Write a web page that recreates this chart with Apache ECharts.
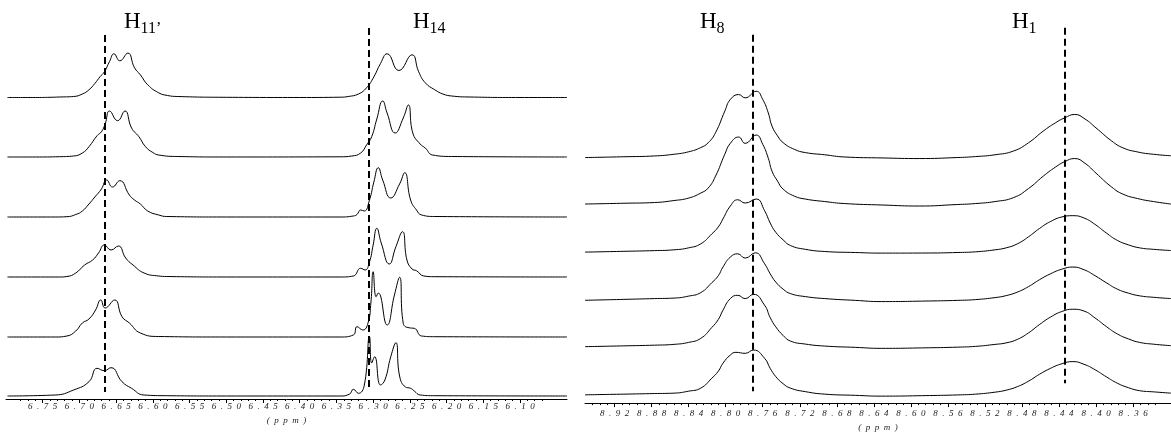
<!DOCTYPE html>
<html><head><meta charset="utf-8">
<script src="https://cdn.jsdelivr.net/npm/echarts@6/dist/echarts.min.js"></script>
<style>html,body{margin:0;padding:0;background:#fff}#c{width:1171px;height:437px}</style>
</head><body><div id="c"></div>
<script>
// ---------- DATA ----------
const leftTickLabels = [6.75,6.70,6.65,6.60,6.55,6.50,6.45,6.40,6.35,6.30,6.25,6.20,6.15,6.10];
const rightTickLabels = [8.92,8.88,8.84,8.80,8.76,8.72,8.68,8.64,8.60,8.56,8.52,8.48,8.44,8.40,8.36];

// left panel spectra [ppm, intensity], top to bottom
const leftTrace1 = [[6.798,0],[6.760,0],[6.740,0.2],[6.727,0.5],[6.708,1],[6.696,3.5],[6.687,7.7],[6.679,14],[6.672,20.7],[6.666,25.7],[6.659,36],[6.653,43.7],[6.645,36.7],[6.634,44.4],[6.625,29.7],[6.617,22.7],[6.607,12.7],[6.592,4.7],[6.580,2],[6.566,1],[6.500,0.2],[6.400,0],[6.345,0.3],[6.334,1],[6.320,3.5],[6.309,9.7],[6.299,20.7],[6.290,34],[6.281,43.7],[6.265,27],[6.247,42.7],[6.238,25.7],[6.229,14.7],[6.216,7.7],[6.205,3.5],[6.193,1.5],[6.168,0.5],[6.100,0],[6.036,0]];
const leftTrace2 = [[6.798,0],[6.760,0],[6.727,0.3],[6.708,1],[6.696,4],[6.687,10.3],[6.676,21.3],[6.670,25.3],[6.665,33],[6.659,46],[6.648,36.3],[6.638,46],[6.629,29],[6.619,20.3],[6.610,10.3],[6.600,4.5],[6.592,2],[6.566,0.5],[6.500,0],[6.345,0.2],[6.329,1],[6.317,4],[6.309,12],[6.302,20.3],[6.295,38],[6.287,56],[6.281,44],[6.270,24],[6.259,39],[6.252,52],[6.246,24],[6.236,13],[6.229,9],[6.219,2],[6.193,0.5],[6.036,0]];
const leftTrace3 = [[6.798,0],[6.733,0],[6.717,0.3],[6.705,2.5],[6.696,6],[6.687,13],[6.679,20],[6.670,28],[6.663,37],[6.655,30],[6.645,36.3],[6.632,22],[6.625,17],[6.617,13],[6.607,6],[6.592,2],[6.581,0.5],[6.500,0],[6.345,0],[6.327,1],[6.322,2.5],[6.317,7],[6.312,6],[6.305,17],[6.299,35],[6.293,49.3],[6.287,37],[6.276,19],[6.264,33],[6.257,44.3],[6.249,17],[6.241,7],[6.234,2],[6.216,0.5],[6.036,0]];
const leftTrace4 = [[6.798,0],[6.727,0],[6.717,0.5],[6.705,4],[6.693,12],[6.682,17],[6.674,24],[6.666,32],[6.657,27],[6.647,31],[6.637,19],[6.627,12],[6.612,4],[6.592,1],[6.581,0.5],[6.500,0],[6.345,0],[6.327,1],[6.317,8.7],[6.311,7],[6.305,15],[6.300,32],[6.295,48.7],[6.289,34],[6.278,13],[6.269,30.3],[6.260,45.3],[6.254,17],[6.247,8],[6.241,6.3],[6.231,1],[6.216,0.3],[6.036,0]];
const leftTrace5 = [[6.798,0],[6.733,0],[6.717,1],[6.705,6],[6.696,14],[6.687,18],[6.678,27],[6.671,37],[6.665,29],[6.652,37],[6.642,20.3],[6.632,14],[6.617,4],[6.592,0.5],[6.500,0],[6.345,0],[6.327,2],[6.322,10.3],[6.314,7],[6.307,14],[6.303,35],[6.300,65.3],[6.296,40.3],[6.293,44],[6.281,12],[6.271,42],[6.264,59.7],[6.259,13.7],[6.249,9],[6.244,8.7],[6.234,1],[6.216,0.3],[6.036,0]];
const leftTrace6 = [[6.798,0],[6.733,1],[6.708,6],[6.687,14.3],[6.676,27.7],[6.666,25.3],[6.657,28.3],[6.642,14.3],[6.629,7.7],[6.612,1],[6.581,0.3],[6.500,0],[6.345,0],[6.332,2],[6.327,6.7],[6.320,2.7],[6.312,11],[6.305,59.3],[6.302,33],[6.298,39.3],[6.290,11],[6.284,16],[6.276,39.3],[6.269,53.3],[6.264,20],[6.256,9],[6.249,7.7],[6.244,5],[6.236,1],[6.216,0.3],[6.036,0]];

// right panel spectra [ppm, intensity], top to bottom
const rightTrace1 = [[8.952,1.2],[8.910,2.0],[8.877,2.8],[8.856,4.5],[8.840,7],[8.827,11.2],[8.819,16],[8.811,26.2],[8.801,47.8],[8.795,59.5],[8.786,64.5],[8.779,61.2],[8.767,67.8],[8.760,59.5],[8.754,46],[8.750,32.8],[8.744,23],[8.738,16.2],[8.726,9.5],[8.714,6.2],[8.693,4],[8.672,1.8],[8.630,0.8],[8.591,0.2],[8.550,1.2],[8.530,2.2],[8.509,4],[8.489,7.8],[8.473,16],[8.457,27.8],[8.444,36],[8.434,41],[8.423,44.5],[8.412,40],[8.400,31],[8.383,17.8],[8.371,11],[8.355,6.8],[8.338,4.5],[8.319,3]];
const rightTrace2 = [[8.952,2],[8.910,2.8],[8.877,3.5],[8.856,5.5],[8.840,8],[8.827,13],[8.819,18],[8.811,30],[8.801,52],[8.795,63],[8.786,69.3],[8.779,63],[8.767,71.3],[8.760,62],[8.754,48],[8.750,35],[8.744,25],[8.738,17],[8.726,10],[8.714,7],[8.693,4.5],[8.672,2.5],[8.630,1],[8.591,0],[8.550,1.5],[8.530,2.5],[8.509,4.5],[8.489,8.5],[8.473,17.5],[8.457,30],[8.444,39],[8.434,44.5],[8.423,47.7],[8.412,43],[8.400,33],[8.383,19],[8.371,12],[8.355,7.5],[8.338,4.5],[8.319,2]];
const rightTrace3 = [[8.952,1.7],[8.910,2.5],[8.877,3.2],[8.856,4],[8.840,6],[8.827,10],[8.815,20],[8.808,27],[8.803,35],[8.795,48],[8.787,54.3],[8.779,51],[8.767,55],[8.758,43.3],[8.752,31],[8.746,21.7],[8.738,14],[8.730,8.3],[8.714,4.5],[8.693,2.3],[8.660,1.3],[8.632,0.7],[8.580,0.8],[8.550,1.3],[8.530,2],[8.509,4],[8.497,6],[8.485,10],[8.473,17],[8.461,25.5],[8.449,32.5],[8.437,37],[8.425,38.3],[8.413,36],[8.401,29.5],[8.389,21],[8.377,13.5],[8.365,9],[8.353,6],[8.338,4.5],[8.319,3.3]];
const rightTrace4 = [[8.952,1.3],[8.910,2.2],[8.877,3],[8.856,3.5],[8.840,5.5],[8.827,9],[8.815,19],[8.808,26],[8.803,34.7],[8.795,44.7],[8.787,48],[8.779,43.7],[8.768,49],[8.758,38],[8.752,28],[8.746,19.7],[8.738,12.5],[8.730,8],[8.714,5],[8.693,3],[8.660,1.2],[8.632,0],[8.580,0.6],[8.550,1.2],[8.530,2],[8.509,4],[8.497,6],[8.485,9.5],[8.473,15],[8.461,22],[8.449,28],[8.437,32.5],[8.425,34.7],[8.413,32],[8.401,26],[8.389,19],[8.377,12.5],[8.365,8.5],[8.353,5.8],[8.338,4.3],[8.319,3]];
const rightTrace5 = [[8.952,1.7],[8.910,2.5],[8.877,3.2],[8.856,4],[8.840,6],[8.827,10],[8.815,21],[8.808,29],[8.803,38.3],[8.795,50],[8.787,53.3],[8.779,50],[8.770,54.3],[8.758,43.3],[8.752,31],[8.746,21.7],[8.738,13],[8.730,7.3],[8.714,4.3],[8.693,2.3],[8.660,1],[8.632,0],[8.580,0.6],[8.550,1.2],[8.530,2],[8.509,4],[8.497,5.5],[8.485,9],[8.473,15.5],[8.461,24],[8.449,31.5],[8.437,37],[8.425,39.3],[8.413,37.5],[8.401,30.5],[8.389,22],[8.377,14.5],[8.365,9.5],[8.353,6],[8.338,4.2],[8.319,2.7]];
const rightTrace6 = [[8.952,1.3],[8.910,2],[8.877,2.6],[8.856,3],[8.840,5],[8.827,8],[8.815,18],[8.808,25],[8.803,33],[8.795,41.3],[8.789,44],[8.779,43],[8.770,46.3],[8.758,38],[8.752,28],[8.746,19.7],[8.738,12.5],[8.730,8],[8.714,4.5],[8.693,2],[8.660,0.8],[8.632,0],[8.580,0.6],[8.550,1.2],[8.530,2],[8.509,4],[8.497,6],[8.485,9.5],[8.473,15],[8.461,22],[8.449,28],[8.437,32.5],[8.425,34.7],[8.413,32],[8.401,26.5],[8.389,19.5],[8.377,13],[8.365,8.5],[8.353,5.5],[8.338,4.3],[8.319,3]];

// reference (dashed) positions, ppm
const leftMarkers = [{sub:'11\u2019', ppm:6.666}, {sub:'14', ppm:6.306}];
const rightMarkers = [{sub:'8', ppm:8.771}, {sub:'1', ppm:8.434}];

// ---------- LAYOUT ----------
const leftTraces = [leftTrace1,leftTrace2,leftTrace3,leftTrace4,leftTrace5,leftTrace6];
const rightTraces = [rightTrace1,rightTrace2,rightTrace3,rightTrace4,rightTrace5,rightTrace6];
const leftOffsets = [301.5,242,182,122,62,3];
const rightOffsets = [245.5,198,150,102,55,7];
const leftDashY = [[364,7],[371,11]];
const rightDashY = [[370,12],[377,20]];
const labelPos = [[124,10],[413,10],[700,10],[1012,10]];

function minorTicks(arr){
  const out=[];
  const d=(arr[1]-arr[0])/5;
  for(let k=-3;k<=(arr.length-1)*5+3;k++) out.push(+(arr[0]+d*k).toFixed(4));
  return out;
}
const spaced = v => v.toFixed(2).split('').join('  ');
const lblStyle = {fontFamily:'Liberation Serif', fontStyle:'italic', fontSize:9, color:'#222'};

function mkAxes(grid, min, max, ticks, margin, gap){
  return [
    {type:'value', gridIndex:grid, inverse:true, min:min, max:max,
     axisLine:{show:true, onZero:false, lineStyle:{color:'#000', width:1}},
     axisTick:{show:true, customValues:ticks, length:4, inside:false, lineStyle:{color:'#000'}},
     axisLabel:{show:true, customValues:ticks, formatter:spaced, margin:margin, ...lblStyle},
     splitLine:{show:false},
     name:'(  p  p  m  )', nameLocation:'middle', nameGap:gap,
     nameTextStyle:lblStyle},
    {type:'value', gridIndex:grid, inverse:true, min:min, max:max,
     axisLine:{show:false},
     axisTick:{show:true, customValues:minorTicks(ticks).filter(v=>v>=min&&v<=max), length:2, lineStyle:{color:'#000'}},
     axisLabel:{show:false}, splitLine:{show:false}, position:'bottom', offset:0}
  ];
}

const series=[];
leftTraces.forEach((t,i)=>{
  series.push({type:'line', xAxisIndex:0, yAxisIndex:0, data:t.map(p=>[p[0],p[1]+leftOffsets[i]]),
    smooth:0.5, showSymbol:false, symbol:'none', silent:true,
    lineStyle:{color:'#000', width:1}});
});
rightTraces.forEach((t,i)=>{
  series.push({type:'line', xAxisIndex:2, yAxisIndex:1, data:t.map(p=>[p[0],p[1]+rightOffsets[i]]),
    smooth:0.5, showSymbol:false, symbol:'none', silent:true,
    lineStyle:{color:'#000', width:1}});
});
function dashSeries(xi, yi, markers, ys){
  return {type:'line', xAxisIndex:xi, yAxisIndex:yi, data:[], silent:true,
    markLine:{symbol:'none', silent:true, label:{show:false},
      lineStyle:{color:'#000', width:2, type:[7,4]},
      data: markers.map((m,k)=>[{coord:[m.ppm, ys[k][0]]},{coord:[m.ppm, ys[k][1]]}])}};
}
series.push(dashSeries(0,0,leftMarkers,leftDashY));
series.push(dashSeries(2,1,rightMarkers,rightDashY));

const allMarkers = leftMarkers.concat(rightMarkers);
const graphic = allMarkers.map((m,k)=>({
  type:'text', left:labelPos[k][0], top:labelPos[k][1],
  style:{text:'{h|H}{s|'+m.sub+'}', rich:{
    h:{fontFamily:'Liberation Serif', fontSize:23, lineHeight:23, fill:'#000', padding:[0,0,4,0], verticalAlign:'bottom'},
    s:{fontFamily:'Liberation Serif', fontSize:16, lineHeight:16, fill:'#000', verticalAlign:'bottom'}}}
}));

const chart = echarts.init(document.getElementById('c'), null, {renderer:'canvas'});
chart.setOption({
  animation:false,
  backgroundColor:'#fff',
  grid:[{left:6, top:0, width:561, height:399},{left:585, top:0, width:586, height:405}],
  xAxis: mkAxes(0, 6.036, 6.80, leftTickLabels, 3, 9).concat(mkAxes(1, 8.319, 8.952, rightTickLabels, 6, 12)),
  yAxis:[{type:'value', gridIndex:0, min:0, max:399, show:false},{type:'value', gridIndex:1, min:0, max:405, show:false}],
  series:series,
  graphic:graphic
});
</script></body></html>
